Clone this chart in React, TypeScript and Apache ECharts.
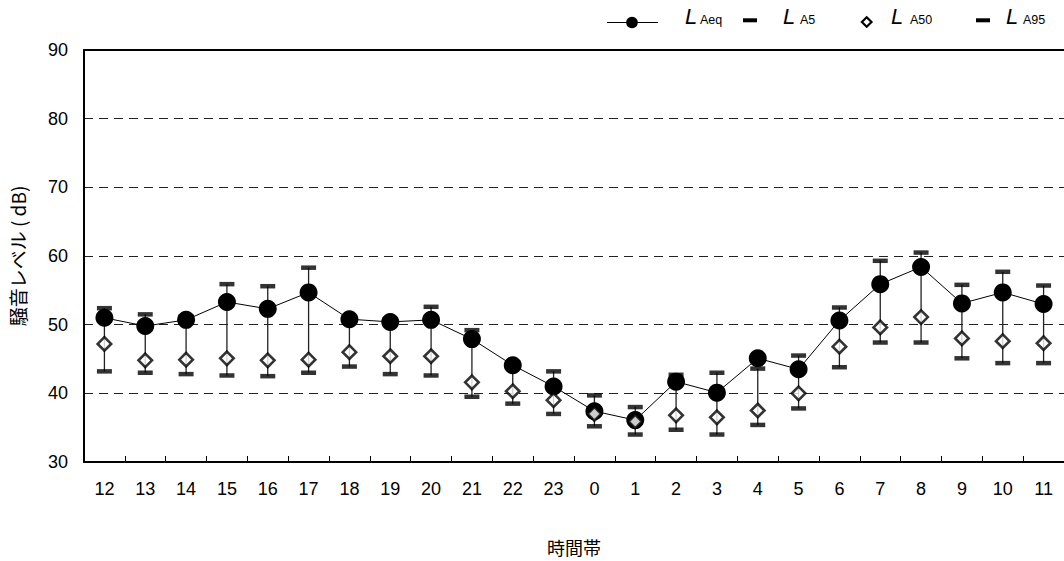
import React, { useEffect, useRef } from "react";
import * as echarts from "echarts";

const hours = ["12","13","14","15","16","17","18","19","20","21","22","23","0","1","2","3","4","5","6","7","8","9","10","11"];
const lAeq = [51.0,49.8,50.7,53.3,52.3,54.7,50.8,50.4,50.7,47.9,44.1,41.0,37.4,36.1,41.7,40.1,45.1,43.5,50.6,55.9,58.4,53.1,54.7,53.0];
const lA5 = [52.4,51.5,51.2,55.9,55.6,58.3,51.0,50.8,52.6,49.2,44.5,43.2,39.7,38.0,42.7,43.0,43.6,45.5,52.5,59.3,60.5,55.8,57.7,55.7];
const lA50 = [47.2,44.8,44.9,45.1,44.8,44.9,46.0,45.4,45.4,41.6,40.3,39.0,37.0,35.9,36.8,36.5,37.5,40.0,46.8,49.6,51.1,48.0,47.6,47.3];
const lA95 = [43.2,43.0,42.8,42.6,42.5,43.0,43.9,42.8,42.6,39.5,38.5,37.0,35.2,34.0,34.7,34.0,35.4,37.8,43.8,47.4,47.4,45.1,44.4,44.4];
const yTicks = { min: 30, max: 90, interval: 10 };

const FONT = "'Liberation Sans', Arial, 'Noto Sans CJK JP', sans-serif";
const JFONT = "'Noto Sans CJK JP', 'Liberation Sans', sans-serif";

export default function App() {
  const ref = useRef<HTMLDivElement>(null);
  useEffect(() => {
    if (!ref.current) return;
    const chart = echarts.init(ref.current, null, { renderer: "svg" });
    const hiLo = hours.map((_, i) => [i, lA5[i], lA95[i]]);
    const legendText = (t: string, x: number, y: number, size: number, italic: boolean) => ({
      type: "text",
      x,
      y,
      style: {
        text: t,
        fill: "#000",
        font: `${italic ? "italic " : "normal "}normal ${size}px 'Liberation Sans', Arial, sans-serif`,
        fontSize: size,
        fontStyle: italic ? "italic" : "normal",
        fontFamily: "'Liberation Sans', Arial, sans-serif",
        align: "left",
        verticalAlign: "middle",
      },
    });
    chart.setOption({
      animation: false,
      backgroundColor: "#fff",
      textStyle: { fontFamily: FONT },
      grid: { left: 84, top: 50, width: 984, height: 414, containLabel: false },
      xAxis: [
        {
          type: "category",
          data: hours,
          boundaryGap: true,
          axisLine: { show: true, lineStyle: { color: "#000", width: 2 } },
          axisTick: { show: true, inside: true, length: 6, interval: 0, lineStyle: { color: "#000", width: 1 } },
          axisLabel: { color: "#000", fontSize: 18, margin: 18, interval: 0, fontFamily: FONT },
          splitLine: { show: false },
          name: "時間帯",
          nameLocation: "middle",
          nameGap: 76,
          nameTextStyle: { color: "#000", fontSize: 18, fontFamily: JFONT },
        },
        {
          type: "category",
          data: hours,
          position: "top",
          axisLine: { show: true, lineStyle: { color: "#000", width: 2 } },
          axisTick: { show: false },
          axisLabel: { show: false },
        },
      ],
      yAxis: {
        type: "value",
        min: yTicks.min,
        max: yTicks.max,
        interval: yTicks.interval,
        axisLine: { show: true, lineStyle: { color: "#000", width: 2 } },
        axisTick: { show: false },
        axisLabel: { color: "#000", fontSize: 18, margin: 16, fontFamily: FONT },
        splitLine: { show: true, lineStyle: { color: "#222", width: 1, type: [9, 6] } },
        name: "騒音レベル ( dB)",
        nameLocation: "middle",
        nameGap: 57,
        nameRotate: 90,
        nameTextStyle: { color: "#000", fontSize: 19, fontFamily: JFONT },
      },
      series: [
        {
          type: "custom",
          name: "hilo",
          z: 1,
          data: hiLo,
          encode: { x: 0, y: [1, 2] },
          renderItem: (params: any, api: any) => {
            const i = api.value(0);
            const p1 = api.coord([i, api.value(1)]);
            const p2 = api.coord([i, api.value(2)]);
            return {
              type: "line",
              shape: { x1: p1[0], y1: p1[1], x2: p2[0], y2: p2[1] },
              style: { stroke: "#222", lineWidth: 1.3 },
            };
          },
        },
        {
          type: "line",
          name: "LAeq",
          z: 2,
          data: lAeq,
          symbol: "circle",
          symbolSize: 18,
          itemStyle: { color: "#000" },
          lineStyle: { color: "#000", width: 1 },
        },
        {
          type: "scatter",
          name: "LA5",
          z: 3,
          data: lA5,
          symbol: "rect",
          symbolSize: [15, 4.5],
          itemStyle: { color: "#000" },
        },
        {
          type: "scatter",
          name: "LA95",
          z: 3,
          data: lA95,
          symbol: "rect",
          symbolSize: [15, 4.5],
          itemStyle: { color: "#000" },
        },
        {
          type: "scatter",
          name: "LA50",
          z: 4,
          data: lA50,
          symbol: "diamond",
          symbolSize: 13.5,
          itemStyle: { color: "#fff", borderColor: "#000", borderWidth: 2.6 },
        },
      ],
      graphic: {
        elements: [
          { type: "line", shape: { x1: 607, y1: 22.5, x2: 658, y2: 22.5 }, style: { stroke: "#000", lineWidth: 1 } },
          { type: "circle", shape: { cx: 632, cy: 22.5, r: 5.8 }, style: { fill: "#000" } },
          legendText("L", 685, 16.5, 22, true),
          legendText("Aeq", 700, 19.5, 12.5, false),
          { type: "rect", shape: { x: 743, y: 18.3, width: 14, height: 4 }, style: { fill: "#000" } },
          legendText("L", 783, 16.5, 22, true),
          legendText("A5", 800, 19.5, 12.5, false),
          {
            type: "polygon",
            shape: { points: [[866.7, 17.3], [871.5, 22], [866.7, 26.7], [861.9, 22]] },
            style: { fill: "#fff", stroke: "#000", lineWidth: 2.2 },
          },
          legendText("L", 891, 16.5, 22, true),
          legendText("A50", 910, 19.5, 12.5, false),
          { type: "rect", shape: { x: 976, y: 18.3, width: 14, height: 4 }, style: { fill: "#000" } },
          legendText("L", 1006, 16.5, 22, true),
          legendText("A95", 1023, 19.5, 12.5, false),
        ],
      },
    });
    return () => chart.dispose();
  }, []);
  return (
    <div
      ref={ref}
      style={{ position: "fixed", left: 0, top: 0, width: 1064, height: 561, background: "#fff" }}
    />
  );
}
